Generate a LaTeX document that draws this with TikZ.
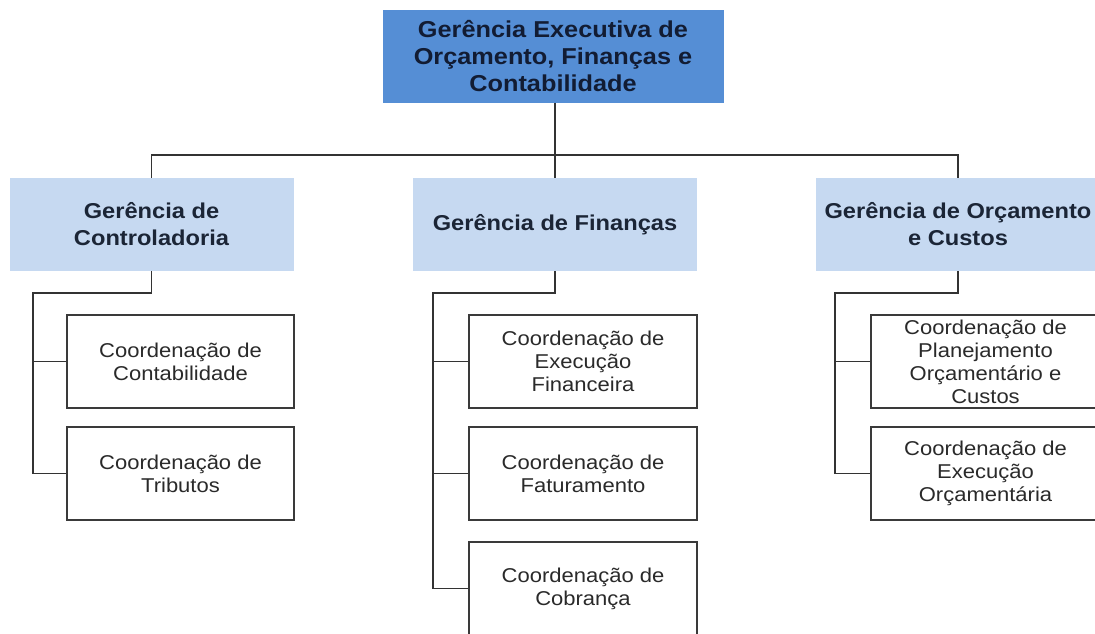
\documentclass[tikz,border=0pt]{standalone}
\usepackage{fontspec}
\setmainfont[FakeStretch=1.1]{Liberation Sans}
\definecolor{topfill}{HTML}{558ED5}
\definecolor{midfill}{HTML}{C6D9F1}
\definecolor{toptext}{HTML}{121C33}
\definecolor{midtext}{HTML}{1B2536}
\definecolor{boxline}{HTML}{3A3A3A}
\definecolor{linecol}{HTML}{333333}
\definecolor{childtext}{HTML}{2A2A2A}
\tikzset{
  topbox/.style={rectangle, fill=topfill, draw=none, minimum width=341pt, minimum height=93pt,
    align=center, text=toptext, font=\fontsize{23}{27}\selectfont\bfseries, inner sep=0pt},
  midbox/.style={rectangle, fill=midfill, draw=none, minimum width=284pt, minimum height=93pt,
    align=center, text=midtext, font=\fontsize{21.5}{27}\selectfont\bfseries, inner sep=0pt},
  childbox/.style={rectangle, fill=white, draw=boxline, line width=1.8pt, minimum width=228pt, minimum height=93pt,
    align=center, text=childtext, font=\fontsize{20}{23}\selectfont, inner sep=0pt},
  conn/.style={draw=linecol, line width=1.6pt}
}
\begin{document}
\begin{tikzpicture}[x=1pt,y=-1pt]
\useasboundingbox (0,0) rectangle (1095,633);
\clip (0,0) rectangle (1095,633);
\fill[white] (0,0) rectangle (1095,633);

% top
\node[topbox] (top) at (553,56) {Gerência Executiva de\\Orçamento, Finanças e\\Contabilidade};

% level 2
\node[midbox] (ga) at (151.5,224.5) {Gerência de\\Controladoria};
\node[midbox] (gb) at (555,224.5) {Gerência de Finanças};
\node[midbox] (gc) at (958,224.5) {Gerência de Orçamento\\e Custos};

% children
\node[childbox, minimum width=227pt] (a1) at (180.5,361.5) {Coordenação de\\Contabilidade};
\node[childbox, minimum width=227pt] (a2) at (180.5,473.5) {Coordenação de\\Tributos};

\node[childbox] (b1) at (583,361.5) {Coordenação de\\Execução\\Financeira};
\node[childbox] (b2) at (583,473.5) {Coordenação de\\Faturamento};
\node[childbox] (b3) at (583,588.5) {Coordenação de\\Cobrança};

\node[childbox, minimum width=229pt] (c1) at (985.5,361.5) {Coordenação de\\Planejamento\\Orçamentário e\\Custos};
\node[childbox, minimum width=229pt] (c2) at (985.5,473.5) {Coordenação de\\Execução\\Orçamentária};

% bus
\coordinate (bus) at (0,155);
\draw[conn] (top.south -| gb.north) -- (gb.north);
\draw[conn] (ga.north) -- (ga.north |- bus) -- (gc.north |- bus) -- (gc.north);

% trunks
\coordinate (ja) at (33,293);
\coordinate (jb) at (433,293);
\coordinate (jc) at (835,293);
\draw[conn] (ga.south) -- (ga.south |- ja) -- (ja) |- (a2.west);
\draw[conn] (a1.west) -- (a1.west -| ja);
\draw[conn] (gb.south) -- (gb.south |- jb) -- (jb) |- (b3.west);
\draw[conn] (b1.west) -- (b1.west -| jb);
\draw[conn] (b2.west) -- (b2.west -| jb);
\draw[conn] (gc.south) -- (gc.south |- jc) -- (jc) |- (c2.west);
\draw[conn] (c1.west) -- (c1.west -| jc);
\end{tikzpicture}
\end{document}
